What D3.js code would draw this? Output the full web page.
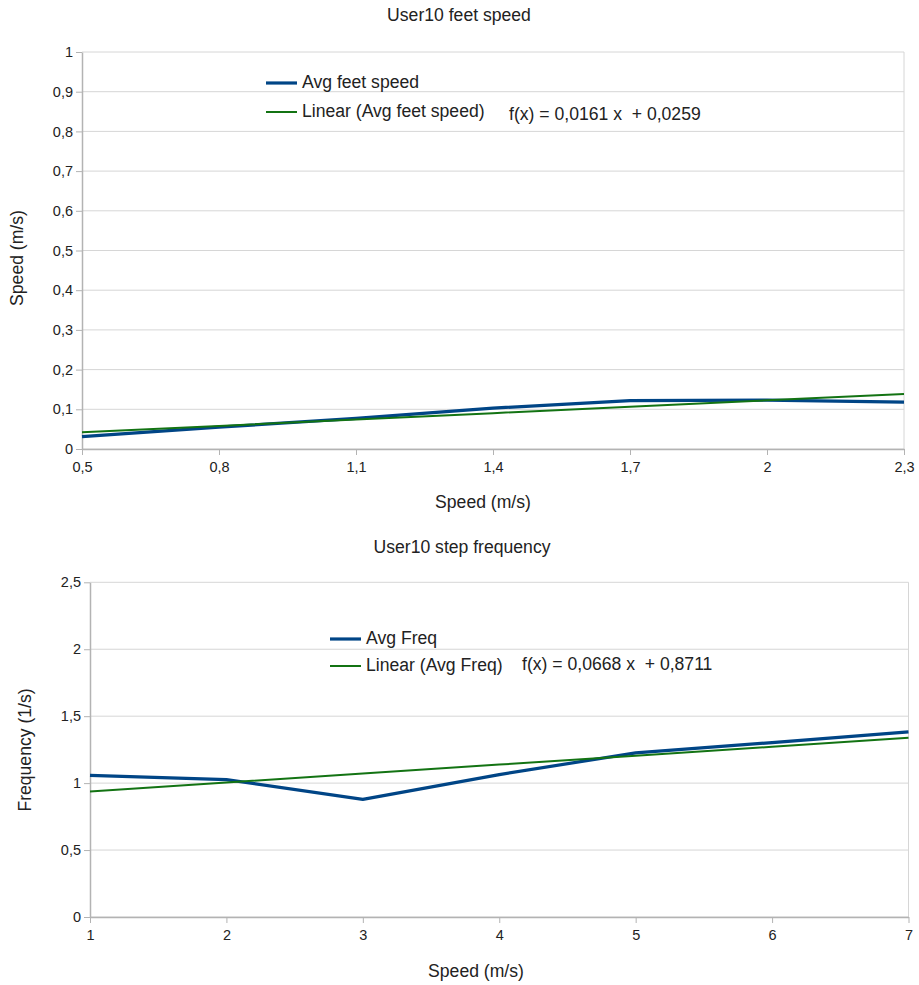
<!DOCTYPE html>
<html>
<head>
<meta charset="utf-8">
<script src="https://cdn.jsdelivr.net/npm/d3@7"></script>
<style>
  body { margin: 0; background: #fff; }
  svg { display: block; font-family: "Liberation Sans", Arial, sans-serif; }
</style>
</head>
<body>
<svg id="chart" width="919" height="985"></svg>
<script>
// top chart: feet speed
const feetSpeedX = [0.5, 0.8, 1.1, 1.4, 1.7, 2.0, 2.3];
const feetSpeedY = [0.031, 0.055, 0.077, 0.103, 0.122, 0.123, 0.118];
const feetTickX = [0.5, 0.8, 1.1, 1.4, 1.7, 2, 2.3];
const feetTickY = [0, 0.1, 0.2, 0.3, 0.4, 0.5, 0.6, 0.7, 0.8, 0.9, 1];
const feetTrend = [0.0161, 0.0259]; // slope, intercept (x = point index 1..n)

// bottom chart: step frequency
const freqX = [1, 2, 3, 4, 5, 6, 7];
const freqY = [1.058, 1.026, 0.879, 1.064, 1.226, 1.303, 1.383];
const freqTickX = [1, 2, 3, 4, 5, 6, 7];
const freqTickY = [0, 0.5, 1, 1.5, 2, 2.5];
const freqTrend = [0.0668, 0.8711];

var blue = "#004586";
var green = "#137313";
var gridColor = "#d6d6d6";
var axisColor = "#b3b3b3";
var textColor = "#222";
var labelSize = "17.6px";

const svg = d3.select("#chart");
const comma = v => String(v).replace(".", ",");

function drawChart(cfg) {
    const x = d3.scaleLinear().domain(cfg.xDomain).range([cfg.left, cfg.right]);
    const y = d3.scaleLinear().domain(cfg.yDomain).range([cfg.bottom, cfg.top]);
    const g = svg.append("g");

    // grid lines
    g.append("g").selectAll("line").data(cfg.yTicks).join("line")
        .attr("x1", cfg.left).attr("x2", cfg.right)
        .attr("y1", d => y(d)).attr("y2", d => y(d))
        .style("stroke", gridColor).style("stroke-width", 1);

    // right frame edge
    g.append("line")
        .attr("x1", cfg.right).attr("x2", cfg.right)
        .attr("y1", cfg.top).attr("y2", cfg.bottom)
        .style("stroke", gridColor);

    // axes
    const xAxis = d3.axisBottom(x).tickValues(cfg.xTicks).tickSize(6).tickSizeOuter(0).tickFormat(comma);
    const yAxis = d3.axisLeft(y).tickValues(cfg.yTicks).tickSize(6).tickSizeOuter(0).tickFormat(comma);

    const gx = g.append("g").attr("transform", `translate(0,${cfg.bottom})`).call(xAxis);
    const gy = g.append("g").attr("transform", `translate(${cfg.left},0)`).call(yAxis);
    [gx, gy].forEach(a => {
        a.select(".domain").style("stroke", axisColor).style("stroke-width", 1.5);
        a.selectAll(".tick line").style("stroke", axisColor);
        a.selectAll(".tick text").style("font-size", "14.5px").style("fill", textColor)
            .style("font-family", "'Liberation Sans', Arial, sans-serif");
    });
    gx.selectAll(".tick text").attr("dy", "0.95em");
    gy.selectAll(".tick text").attr("x", -9);

    // trend line (regression uses the point index)
    const trend = cfg.xs.map((d, i) => ({x: d, y: cfg.trend[0] * (i + 1) + cfg.trend[1]}));
    const line = d3.line().x(d => x(d.x)).y(d => y(d.y));

    g.append("path").datum(cfg.xs.map((d, i) => ({x: d, y: cfg.ys[i]})))
        .attr("d", line)
        .style("fill", "none").style("stroke", blue).style("stroke-width", 3.2)
        .style("stroke-linejoin", "round");

    g.append("path").datum(trend)
        .attr("d", line)
        .style("fill", "none").style("stroke", green).style("stroke-width", 2);

    // titles
    g.append("text").text(cfg.title)
        .attr("x", cfg.titleX).attr("y", cfg.titleY)
        .attr("text-anchor", "middle").attr("dominant-baseline", "middle")
        .style("font-size", labelSize).style("fill", textColor);

    g.append("text").text("Speed (m/s)")
        .attr("x", cfg.xTitleX).attr("y", cfg.xTitleY)
        .attr("text-anchor", "middle").attr("dominant-baseline", "middle")
        .style("font-size", labelSize).style("fill", textColor);

    g.append("text").text(cfg.yTitle)
        .attr("transform", `translate(${cfg.yTitleX},${cfg.yTitleY}) rotate(-90)`)
        .attr("text-anchor", "middle").attr("dominant-baseline", "middle")
        .style("font-size", labelSize).style("fill", textColor);

    // legend
    const leg = g.append("g");
    [[cfg.legend[0], blue, 3.2], [cfg.legend[1], green, 2]].forEach((d, i) => {
        const ly = cfg.legY[i];
        leg.append("line")
            .attr("x1", cfg.legX).attr("x2", cfg.legX + 31)
            .attr("y1", ly).attr("y2", ly)
            .style("stroke", d[1]).style("stroke-width", d[2]);
        leg.append("text").text(d[0])
            .attr("x", cfg.legX + 36).attr("y", ly)
            .attr("dominant-baseline", "middle")
            .style("font-size", labelSize).style("fill", textColor);
    });
    leg.append("text").text(`f(x) = ${comma(cfg.trend[0])} x  + ${comma(cfg.trend[1])}`)
        .attr("x", cfg.eqX).attr("y", cfg.eqY)
        .attr("dominant-baseline", "middle")
        .style("white-space", "pre")
        .style("font-size", labelSize).style("fill", textColor);
}

drawChart({
    xs: feetSpeedX, ys: feetSpeedY, trend: feetTrend,
    xDomain: [0.5, 2.3], yDomain: [0, 1],
    xTicks: feetTickX, yTicks: feetTickY,
    left: 82, right: 904, top: 52, bottom: 449,
    title: "User10 feet speed", titleX: 459, titleY: 16,
    xTitleX: 483, xTitleY: 503,
    yTitle: "Speed (m/s)", yTitleX: 18, yTitleY: 258,
    legend: ["Avg feet speed", "Linear (Avg feet speed)"],
    legX: 266, legY: [83, 112], eqX: 509, eqY: 115
});

drawChart({
    xs: freqX, ys: freqY, trend: freqTrend,
    xDomain: [1, 7], yDomain: [0, 2.5],
    xTicks: freqTickX, yTicks: freqTickY,
    left: 90, right: 908.5, top: 582.3, bottom: 917,
    title: "User10 step frequency", titleX: 462, titleY: 548,
    xTitleX: 476, xTitleY: 972,
    yTitle: "Frequency (1/s)", yTitleX: 26, yTitleY: 750,
    legend: ["Avg Freq", "Linear (Avg Freq)"],
    legX: 330, legY: [639, 666], eqX: 522, eqY: 665
});
</script>
</body>
</html>
